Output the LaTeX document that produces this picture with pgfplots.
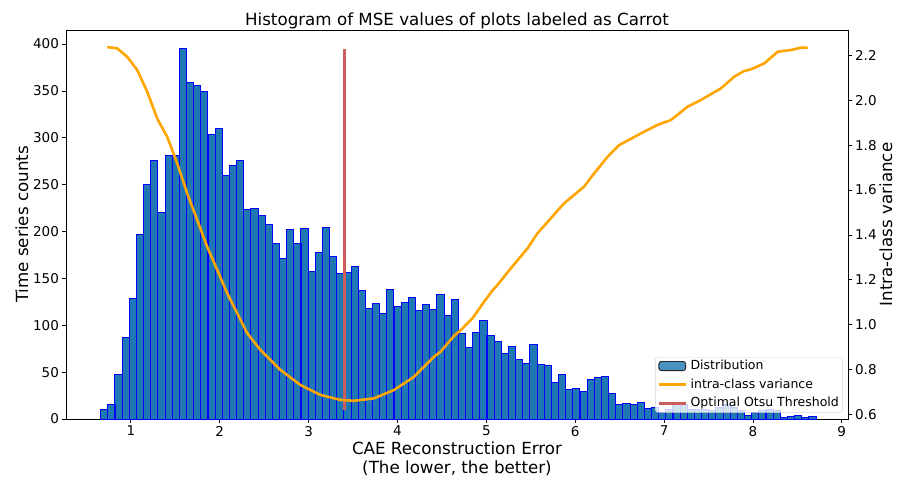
\documentclass[border=0pt]{standalone}
\usepackage{pgfplots}
\pgfplotsset{compat=1.18}
\usepackage{pgfplotstable}
\usepackage{fontspec}
\setmainfont{DejaVu Sans}
\definecolor{barblue}{RGB}{31,119,180}
\definecolor{edgeblue}{RGB}{0,0,255}
\definecolor{myorange}{RGB}{255,165,0}
\definecolor{myred}{RGB}{205,92,92}
\pgfplotstableread{
x count
0.700 10
0.781 16
0.861 48
0.942 87
1.022 129
1.103 197
1.183 250
1.264 276
1.344 220
1.425 281
1.505 281
1.586 395
1.666 359
1.747 356
1.827 349
1.908 304
1.988 310
2.069 260
2.149 271
2.230 276
2.310 224
2.391 225
2.471 217
2.552 208
2.632 187
2.713 171
2.793 202
2.874 187
2.954 203
3.035 157
3.115 178
3.196 204
3.276 173
3.357 155
3.437 156
3.518 163
3.598 137
3.679 118
3.759 123
3.840 113
3.920 138
4.001 120
4.081 124
4.162 130
4.242 116
4.323 122
4.403 117
4.484 133
4.564 111
4.645 128
4.725 91
4.806 76
4.886 92
4.967 105
5.047 89
5.128 83
5.208 70
5.289 77
5.369 63
5.450 59
5.530 80
5.611 58
5.691 57
5.772 39
5.852 47
5.933 31
6.013 33
6.094 29
6.174 42
6.255 44
6.335 45
6.416 27
6.496 15
6.577 17
6.657 15
6.738 18
6.818 11
6.899 12
6.979 7
7.060 10
7.140 17
7.221 15
7.301 10
7.382 10
7.462 10
7.543 9
7.623 12
7.704 15
7.784 12
7.865 9
7.945 4
8.026 7
8.106 9
8.187 10
8.267 9
8.348 2
8.428 3
8.509 4
8.589 2
8.670 3
}\histdata
\pgfplotstableread{
x v
0.735 2.237
0.846 2.231
0.958 2.194
1.071 2.135
1.184 2.038
1.296 1.919
1.409 1.837
1.521 1.719
1.634 1.585
1.747 1.466
1.859 1.347
1.972 1.244
2.084 1.140
2.197 1.051
2.310 0.962
2.459 0.887
2.685 0.798
2.910 0.731
3.135 0.687
3.360 0.665
3.510 0.661
3.735 0.672
3.960 0.709
4.186 0.768
4.411 0.857
4.486 0.880
4.636 0.950
4.712 0.976
4.843 1.028
4.974 1.102
5.064 1.150
5.125 1.177
5.275 1.251
5.463 1.340
5.575 1.407
5.725 1.474
5.875 1.541
6.100 1.615
6.213 1.674
6.364 1.748
6.494 1.800
6.776 1.860
6.926 1.890
7.077 1.912
7.264 1.971
7.414 2.001
7.640 2.053
7.790 2.105
7.900 2.130
7.980 2.138
8.127 2.164
8.278 2.216
8.430 2.224
8.540 2.234
8.616 2.234
}\vardata
\begin{document}
\begin{tikzpicture}
\path[use as bounding box] (-66pt,-58pt) rectangle (833pt,419pt);
\begin{axis}[
  scale only axis, width=782pt, height=389pt,
  xmin=0.27, xmax=9.07, ymin=0, ymax=415,
  xtick={1,2,...,9}, ytick={0,50,...,400},
  xtick pos=bottom, ytick pos=left,
  tick align=outside, major tick length=3.6pt,
  every tick/.style={black, line width=0.8pt},
  axis line style={black, line width=0.8pt},
  /pgf/number format/assume math mode=true,
  tick label style={font=\fontsize{13.5}{16}\selectfont},
  every axis title/.style={at={(rel axis cs:0.5,1)}, anchor=base, yshift=4pt, inner sep=0pt, font=\fontsize{16.7}{20}\selectfont},
  title={Histogram of MSE values of plots labeled as Carrot},
  every axis x label/.style={at={(rel axis cs:0.5,0)}, anchor=north, yshift=-22.5pt, inner sep=0pt, align=center, font=\fontsize{16.7}{19.5}\selectfont},
  xlabel={CAE Reconstruction Error\\(The lower, the better)},
  every axis y label/.style={at={(rel axis cs:-0.0563,0.5)}, rotate=90, anchor=center, inner sep=0pt, font=\fontsize{16.7}{20}\selectfont},
  ylabel={Time series counts},
]
\addplot[ybar, bar width=0.0805, bar shift=0pt, fill=barblue, draw=edgeblue, line width=0.9pt] table[x=x, y=count] {\histdata};
\addplot[myred, line width=3pt] coordinates {(3.40,10) (3.40,395)};
\end{axis}
\begin{axis}[
  scale only axis, width=782pt, height=389pt,
  xmin=0.27, xmax=9.07, ymin=0.58, ymax=2.313,
  axis x line=none, axis y line*=right,
  ytick={0.6,0.8,...,2.21},
  tick align=outside, major tick length=3.6pt,
  every tick/.style={black, line width=0.8pt},
  axis line style={black, line width=0.8pt},
  /pgf/number format/assume math mode=true,
  yticklabel style={font=\fontsize{13.5}{16}\selectfont, /pgf/number format/.cd, fixed, fixed zerofill, precision=1},
  every axis y label/.style={at={(rel axis cs:1.0486,0.5)}, rotate=90, anchor=center, inner sep=0pt, font=\fontsize{16.7}{20}\selectfont},
  ylabel={Intra-class variance},
  legend image code/.code={\draw[#1] (0pt,0pt) -- (26.7pt,0pt);},
  legend cell align=left,
  legend style={at={(rel axis cs:1,0)}, anchor=south east, xshift=-5.5pt, yshift=6.5pt,
    draw=black!17, fill=white, fill opacity=0.8, text opacity=1, rounded corners=2.5pt,
    font=\fontsize{12.5}{15}\selectfont, inner xsep=2pt, inner ysep=1.5pt, row sep=4pt, column sep=2pt,
    nodes={inner sep=1.5pt, text depth=2.6pt, text height=9.1pt}},
]
\addlegendimage{legend image code/.code={\draw[fill=barblue, draw=black!85, line width=0.9pt] (0pt,-4.6pt) rectangle (26.7pt,4.6pt);}}
\addplot[myorange, line width=2.6pt] table[x=x, y=v] {\vardata};
\addlegendimage{myred, line width=3pt}
\legend{Distribution, intra-class variance, Optimal Otsu Threshold}
\end{axis}
\end{tikzpicture}
\end{document}
